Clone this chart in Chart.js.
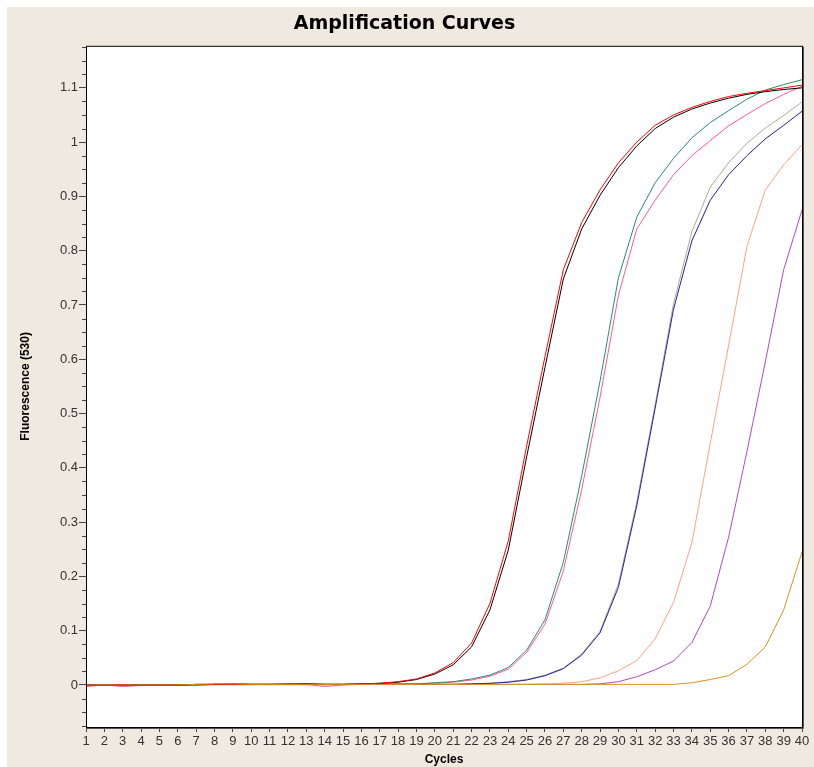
<!DOCTYPE html>
<html>
<head>
<meta charset="utf-8">
<title>Amplification Curves</title>
<script src="https://cdn.jsdelivr.net/npm/chart.js@4.4.1/dist/chart.umd.min.js"></script>
<style>
  body { margin: 0; background: #ffffff; }
  #panel { position: absolute; left: 7px; top: 7px; width: 807px; height: 760px; background: #efe9e0; }
</style>
</head>
<body>
<div id="panel"><canvas id="ampChart" width="807" height="760"></canvas></div>
<script>
const cycles = [1, 2, 3, 4, 5, 6, 7, 8, 9, 10, 11, 12, 13, 14, 15, 16, 17, 18, 19, 20,
  21, 22, 23, 24, 25, 26, 27, 28, 29, 30, 31, 32, 33, 34, 35, 36, 37, 38, 39, 40];

const yTicks = [0, 0.1, 0.2, 0.3, 0.4, 0.5, 0.6, 0.7, 0.8, 0.9, 1, 1.1];
const yMinorStep = 0.025;

// Fluorescence values per cycle
const orange = [0, 0, 0, 0, 0, 0, 0.001, 0.002, 0.002, 0.001, 0.001, 0.001, 0.001, 0.001, 0.001, 0.001, 0.001, 0.001, 0.001, 0.001,
  0.001, 0.001, 0.001, 0.001, 0.001, 0.001, 0.001, 0.001, 0.001, 0.001, 0.001, 0.001, 0.001, 0.004, 0.01, 0.017, 0.038, 0.07, 0.138, 0.245];
const red = [-0.001, 0, 0, 0, 0, 0, 0.001, 0.001, 0.001, 0.001, 0.001, 0.001, 0.001, 0.001, 0.001, 0.002, 0.003, 0.006, 0.011, 0.022,
  0.041, 0.077, 0.15, 0.265, 0.44, 0.605, 0.765, 0.852, 0.912, 0.962, 1.0, 1.031, 1.05, 1.064, 1.075, 1.084, 1.09, 1.095, 1.1, 1.105];
const black = [0, 0, 0, 0, 0, 0, 0.001, 0.001, 0.001, 0.001, 0.001, 0.001, 0.002, 0.001, 0.001, 0.002, 0.003, 0.005, 0.01, 0.02,
  0.037, 0.07, 0.138, 0.248, 0.42, 0.585, 0.748, 0.84, 0.902, 0.953, 0.993, 1.025, 1.046, 1.061, 1.072, 1.081, 1.088, 1.093, 1.097, 1.1];
const green = [0, 0, 0, 0, 0, 0, 0, 0.001, 0.001, 0.001, 0.001, 0.001, 0.001, 0.001, 0.001, 0.001, 0.002, 0.002, 0.002, 0.004,
  0.006, 0.011, 0.018, 0.032, 0.064, 0.12, 0.226, 0.385, 0.56, 0.75, 0.862, 0.925, 0.97, 1.008, 1.036, 1.058, 1.079, 1.096, 1.106, 1.115];
const pink = [-0.003, 0, -0.003, -0.001, 0, 0, 0, 0.001, 0.001, 0.001, 0.001, 0.001, 0.001, -0.003, 0, 0.001, 0.001, 0.001, 0.002, 0.003,
  0.005, 0.009, 0.016, 0.029, 0.06, 0.112, 0.21, 0.36, 0.53, 0.718, 0.84, 0.893, 0.94, 0.975, 1.003, 1.03, 1.051, 1.071, 1.088, 1.103];
const grey = [0, 0, 0, 0, 0, 0, 0, 0.001, 0.001, 0.001, 0.001, 0.001, 0.001, 0.001, 0.001, 0.001, 0.001, 0.001, 0.001, 0.001,
  0.001, 0.002, 0.003, 0.006, 0.01, 0.018, 0.031, 0.057, 0.099, 0.186, 0.337, 0.516, 0.702, 0.835, 0.917, 0.962, 0.998, 1.026, 1.049, 1.074];
const navy = [0, 0, 0, 0, 0, 0, 0, 0.001, 0.002, 0.001, 0.001, 0.002, 0.001, 0.001, 0.001, 0.001, 0.001, 0.001, 0.001, 0.001,
  0.001, 0.002, 0.003, 0.005, 0.009, 0.017, 0.03, 0.055, 0.096, 0.18, 0.33, 0.51, 0.692, 0.818, 0.893, 0.94, 0.975, 1.006, 1.031, 1.057];
const salmon = [0, 0, 0, 0, 0, 0, 0, 0, 0, 0, 0, 0, 0, 0, 0, 0.001, 0.001, 0.001, 0.001, 0.001,
  0.001, 0.001, 0.001, 0.001, 0.001, 0.002, 0.003, 0.006, 0.013, 0.026, 0.045, 0.085, 0.152, 0.262, 0.445, 0.625, 0.808, 0.912, 0.958, 0.995];
const purple = [0, 0, 0, 0, 0, 0, 0, 0.001, 0.001, 0.001, 0.001, 0.001, 0.002, 0.001, 0.001, 0.001, 0.001, 0.001, 0.001, 0.001,
  0.001, 0.001, 0.001, 0.001, 0.001, 0.001, 0.001, 0.001, 0.002, 0.006, 0.015, 0.028, 0.044, 0.078, 0.145, 0.272, 0.43, 0.595, 0.765, 0.875];

const seriesList = [
  { name: 'orange', data: orange, color: '#d8921e' },
  { name: 'red', data: red, color: '#ff0000' },
  { name: 'black', data: black, color: '#000000' },
  { name: 'green', data: green, color: '#2a8a6c' },
  { name: 'pink', data: pink, color: '#ff5a8c' },
  { name: 'navy', data: navy, color: '#22229a' },
  { name: 'grey', data: grey, color: '#a9aa98' },
  { name: 'salmon', data: salmon, color: '#ffa285' },
  { name: 'purple', data: purple, color: '#b048c4' }
];

// white plot area, frame and the small minor ticks on the y axis
const plotFrame = {
  id: 'plotFrame',
  beforeDatasetsDraw(chart) {
    const { ctx, chartArea: a } = chart;
    ctx.save();
    ctx.fillStyle = '#ffffff';
    ctx.fillRect(a.left, a.top, a.right - a.left, a.bottom - a.top);
    ctx.restore();
  },
  afterDatasetsDraw(chart) {
    const { ctx, chartArea: a } = chart;
    const y = chart.scales.y;
    ctx.save();
    ctx.strokeStyle = '#000000';
    ctx.lineWidth = 1;
    ctx.strokeRect(a.left + 0.5, a.top + 0.5, a.right - a.left, a.bottom - a.top);
    ctx.strokeStyle = '#555555';
    ctx.beginPath();
    ctx.moveTo(a.right + 1.5, a.top + 1);
    ctx.lineTo(a.right + 1.5, a.bottom + 1.5);
    ctx.lineTo(a.left + 1, a.bottom + 1.5);
    ctx.stroke();
    ctx.strokeStyle = '#444444';
    ctx.beginPath();
    for (let v = -0.075; v < y.max; v += yMinorStep) {
      const r = Math.round(v * 1000) / 1000;
      if (Math.abs(r * 10 - Math.round(r * 10)) < 0.001) continue;
      const py = Math.round(y.getPixelForValue(r)) + 0.5;
      ctx.moveTo(a.left - 4, py);
      ctx.lineTo(a.left, py);
    }
    ctx.stroke();
    ctx.restore();
  }
};

new Chart(document.getElementById('ampChart'), {
  type: 'line',
  data: {
    labels: cycles,
    datasets: seriesList.map(s => ({
      label: s.name,
      data: s.data,
      borderColor: s.color,
      borderWidth: 1,
      pointRadius: 0,
      tension: 0,
      fill: false
    }))
  },
  options: {
    responsive: false,
    animation: false,
    layout: { padding: { left: 0, right: 12, top: 0, bottom: 0 } },
    plugins: {
      legend: { display: false },
      tooltip: { enabled: false },
      title: {
        display: true,
        text: 'Amplification Curves',
        color: '#000000',
        font: { family: 'DejaVu Sans', size: 19, weight: 'bold' },
        padding: { top: 6, bottom: 10 }
      }
    },
    scales: {
      x: {
        offset: false,
        grid: { drawOnChartArea: false, tickLength: 5, tickColor: '#444444' },
        border: { display: false },
        ticks: {
          autoSkip: false,
          maxRotation: 0,
          padding: 2,
          color: '#333333',
          font: { family: 'Liberation Sans', size: 13 }
        },
        title: {
          display: true,
          text: 'Cycles',
          color: '#000000',
          font: { family: 'Liberation Sans', size: 12, weight: 'bold' },
          padding: { top: 0, bottom: 0 }
        },
        afterFit(scale) { scale.height = 40; }
      },
      y: {
        min: -0.0775,
        max: 1.1775,
        afterBuildTicks(scale) { scale.ticks = yTicks.map(v => ({ value: v })); },
        grid: { drawOnChartArea: false, tickLength: 7, tickColor: '#444444' },
        border: { display: false },
        ticks: {
          padding: 1,
          color: '#333333',
          font: { family: 'Liberation Sans', size: 13 },
          callback: v => String(Math.round(v * 10) / 10)
        },
        title: {
          display: true,
          text: 'Fluorescence (530)',
          color: '#000000',
          font: { family: 'Liberation Sans', size: 12, weight: 'bold' },
          padding: { top: 11, bottom: 0 }
        },
        afterFit(scale) { scale.width = 79; }
      }
    }
  },
  plugins: [plotFrame]
});
</script>
</body>
</html>
